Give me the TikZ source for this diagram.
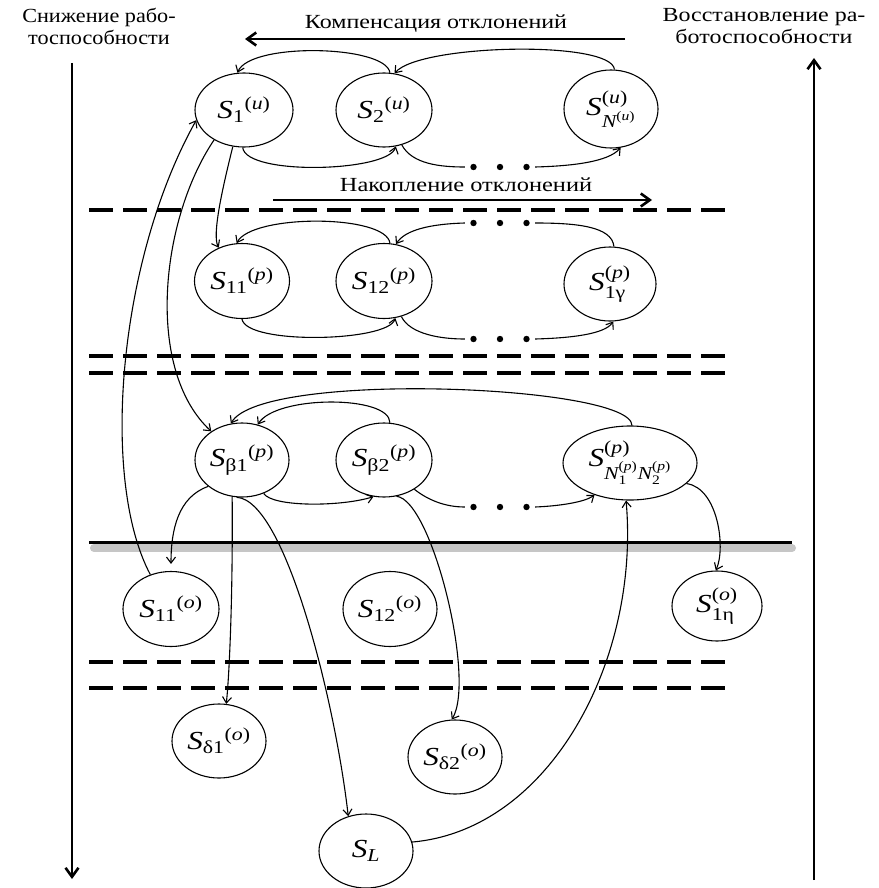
\documentclass[tikz,border=0pt]{standalone}
\usepackage{amsmath}
\usepackage{graphicx}
\usepackage{fontspec}
\setmainfont{Liberation Serif}
\usetikzlibrary{shapes.geometric,arrows.meta}

% label helpers: italic letter, upright text, parenthesised italic index
\newcommand\It[1]{\textit{#1}}
\newcommand\Tx[1]{\text{#1}}
\newcommand\Par[1]{\text{(\textit{#1})}}
% type is set slightly widened, as in the original layout
\newcommand\Wide[2][1.2]{\scalebox{#1}[1]{#2}}
\newcommand\Lbl[1]{\scalebox{1.2}[1]{$#1$}}

\tikzset{
  state/.style={ellipse, draw, line width=1.1pt, inner sep=0pt,
                font=\fontsize{26}{28}\selectfont},
  link/.style={line width=1.1pt, -{Straight Barb[length=6pt,width=9pt]}},
  plain/.style={line width=1.1pt},
  axis/.style={line width=2.6pt, -{Straight Barb[length=9pt,width=13pt]}},
  dashrule/.style={line width=3.5pt, dash pattern=on 24pt off 10pt},
  caption/.style={font=\fontsize{20}{22}\selectfont, align=center, inner sep=0pt},
  dotrow/.style={minimum width=70pt, minimum height=10pt, inner sep=0pt,
    path picture={\foreach \k in {-1,0,1}{\fill ([xshift=\k*26.5pt]path picture bounding box.center) circle[radius=3.2pt];}}}
}

\begin{document}
\begin{tikzpicture}[x=1pt,y=-1pt]
\useasboundingbox (0,0) rectangle (878,888);

% ---------- headings and side axes ----------
\node[caption] (lt) at (99,26) {\Wide[1.11]{Снижение рабо-}\\\Wide[1.11]{тоспособности}};
\node[caption] (rt) at (764,26) {\Wide{Восстановление ра-}\\\Wide{ботоспособности}};
\node[caption] (comp) at (436,24) {\Wide{Компенсация отклонений}};
\node[caption] (acc) at (466,185) {\Wide[1.22]{Накопление отклонений}};

\coordinate (compA) at (625,39);
\coordinate (compB) at (245,39);
\coordinate (accA) at (273,200);
\coordinate (accB) at (652,200);
\draw[axis] (compA) -- (compB);
\draw[axis] (accA) -- (accB);

\coordinate (downTop) at (72,63);
\coordinate (downEnd) at (72,879);
\coordinate (upBot) at (814,880);
\coordinate (upTop) at (814,58);
\draw[axis] (downTop) -- (downEnd);
\draw[axis] (upBot) -- (upTop);

% ---------- level separators ----------
\draw[dashrule] (89,210) -- (727,210);
\draw[dashrule] (89,356) -- (727,356);
\draw[dashrule] (89,373) -- (727,373);
\draw[dashrule] (89,662) -- (727,662);
\draw[dashrule] (89,688) -- (727,688);

% critical boundary with its shadow
\draw[line width=8pt, line cap=round, gray!45] (94,548) -- (792,548);
\draw[line width=3pt] (89,542) -- (792,542);

% ---------- states ----------
\node[state, minimum width=98pt, minimum height=74pt] (u1) at (244,110) {\Lbl{\It{S}_{\Tx{1}}{}^{\Par{u}}}};
\node[state, minimum width=96pt, minimum height=74pt] (u2) at (384,110) {\Lbl{\It{S}_{\Tx{2}}{}^{\Par{u}}}};
\node[state, minimum width=94pt, minimum height=78pt] (uN) at (611,109) {\Lbl{\It{S}^{\Par{u}}_{\It{N}^{\Par{u}}}}};

\node[state, minimum width=95pt, minimum height=75pt] (p11) at (242,281) {\Lbl{\It{S}_{\Tx{11}}{}^{\Par{p}}}};
\node[state, minimum width=96pt, minimum height=75pt] (p12) at (384,281) {\Lbl{\It{S}_{\Tx{12}}{}^{\Par{p}}}};
\node[state, minimum width=92pt, minimum height=74pt] (p1g) at (610,284) {\Lbl{\It{S}^{\Par{p}}_{\Tx{1γ}}}};

\node[state, minimum width=94pt, minimum height=74pt] (b1) at (242,460) {\Lbl{\It{S}_{\Tx{β1}}{}^{\Par{p}}}};
\node[state, minimum width=96pt, minimum height=74pt] (b2) at (384,460) {\Lbl{\It{S}_{\Tx{β2}}{}^{\Par{p}}}};
\node[state, minimum width=134pt, minimum height=74pt] (pNN) at (630,463) {\Lbl{\It{S}^{\Par{p}}_{\It{N}_{\Tx{1}}^{\Par{p}}\It{N}_{\Tx{2}}^{\Par{p}}}}};

\node[state, minimum width=96pt, minimum height=75pt] (o11) at (171,609) {\Lbl{\It{S}_{\Tx{11}}{}^{\Par{o}}}};
\node[state, minimum width=94pt, minimum height=75pt] (o12) at (390,609) {\Lbl{\It{S}_{\Tx{12}}{}^{\Par{o}}}};
\node[state, minimum width=90pt, minimum height=70pt] (o1h) at (717,606) {\Lbl{\It{S}^{\Par{o}}_{\Tx{1η}}}};

\node[state, minimum width=94pt, minimum height=74pt] (d1) at (219,741) {\Lbl{\It{S}_{\Tx{δ1}}{}^{\Par{o}}}};
\node[state, minimum width=94pt, minimum height=74pt] (d2) at (455,757) {\Lbl{\It{S}_{\Tx{δ2}}{}^{\Par{o}}}};
\node[state, minimum width=94pt, minimum height=74pt] (SL) at (366,851) {\Lbl{\It{S}_{\It{L}}}};

% omitted intermediate states
\node[dotrow] (dA) at (500,167) {};
\node[dotrow] (dB) at (500,223) {};
\node[dotrow] (dC) at (500,339) {};
\node[dotrow] (dD) at (500,507) {};

% ---------- transitions: upper level ----------
\draw[link] (u2.81) .. controls (386,45) and (250,42) .. (u1.100);
\draw[link] (uN.85) .. controls (612,40) and (420,44) .. (u2.74);
\draw[link] (u1.268) .. controls (246,176) and (388,172) .. (u2.288);
\draw[plain] (u2.297) .. controls (412,164) and (440,167) .. (dA.west);
\draw[link] (dA.east) .. controls (572,166) and (608,162) .. (uN.284);

% ---------- transitions: first intermediate level ----------
\draw[link] (p12.81) .. controls (386,214) and (252,214) .. (p11.98);
\draw[plain] (p1g.84) .. controls (612,226) and (575,223) .. (dB.east);
\draw[link] (dB.west) .. controls (430,224) and (405,230) .. (p12.72);
\draw[link] (p11.270) .. controls (246,345) and (388,342) .. (p12.287);
\draw[plain] (p12.296) .. controls (410,334) and (440,339) .. (dC.west);
\draw[link] (dC.east) .. controls (572,338) and (605,334) .. (p1g.275);

% ---------- transitions: last intermediate level ----------
\draw[link] (pNN.87) .. controls (632,385) and (262,370) .. (b1.107);
\draw[link] (b2.81) .. controls (390,395) and (276,395) .. (b1.66);
\draw[link] (b1.303) .. controls (272,507) and (340,507) .. (b2.254);
\draw[plain] (b2.316) .. controls (428,500) and (445,507) .. (dD.west);
\draw[link] (dD.east) .. controls (560,506) and (585,502) .. (pNN.222);

% ---------- transitions between levels ----------
\draw[link] (u1.225) .. controls (160,220) and (145,370) .. (b1.137);
\draw[link] (u1.253) .. controls (222,190) and (212,235) .. (p11.125);
\draw[link] (o11.121) .. controls (100,480) and (118,260) .. (u1.192);
\draw[link, shorten >=7pt] (b1.218) .. controls (178,497) and (171,530) .. (o11.north);
\draw[link] (b1.255) .. controls (233,600) and (229,680) .. (d1.79);
\draw[link] (b1.262) .. controls (285,500) and (335,700) .. (SL.117);
\draw[link] (b2.289) .. controls (432,500) and (476,680) .. (d2.95);
\draw[link] (SL.11) .. controls (550,830) and (640,660) .. (pNN.264);
\draw[link] (pNN.340) .. controls (718,488) and (726,548) .. (o1h.92);
\end{tikzpicture}
\end{document}
